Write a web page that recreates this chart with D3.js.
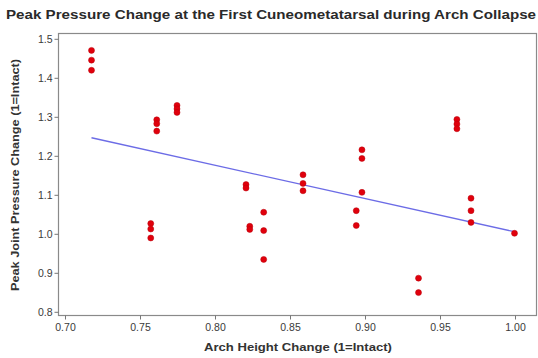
<!DOCTYPE html>
<html>
<head>
<meta charset="utf-8">
<script src="https://cdn.jsdelivr.net/npm/d3@7"></script>
<style>
  html, body { margin: 0; padding: 0; background: #fff; }
  svg { display: block; }
  text { font-family: "Liberation Sans", Arial, sans-serif; }
</style>
</head>
<body>
<svg id="chart" width="538" height="358"></svg>
<script>
// ---- data ----
const archHeight = [
  0.718, 0.718, 0.718,
  0.7575, 0.7575, 0.7575,
  0.7615, 0.7615, 0.7615,
  0.775, 0.775, 0.775,
  0.821, 0.821,
  0.8235, 0.8235,
  0.8328, 0.8328, 0.8328,
  0.859, 0.859, 0.859,
  0.8945, 0.8945,
  0.8983, 0.8983, 0.8983,
  0.936, 0.936,
  0.9616, 0.9616, 0.9616,
  0.971, 0.971, 0.971,
  1.000
];
const pressure = [
  1.469, 1.444, 1.418,
  1.025, 1.011, 0.988,
  1.291, 1.281, 1.262,
  1.328, 1.319, 1.310,
  1.125, 1.116,
  1.018, 1.010,
  1.054, 1.007, 0.933,
  1.150, 1.128, 1.109,
  1.058, 1.020,
  1.214, 1.192, 1.105,
  0.885, 0.848,
  1.292, 1.280, 1.268,
  1.090, 1.058, 1.028,
  1.000
];
const fitX = [0.718, 1.000];
const fitY = [1.245, 1.004];
const xTicks = [0.70, 0.75, 0.80, 0.85, 0.90, 0.95, 1.00];
const yTicks = [0.8, 0.9, 1.0, 1.1, 1.2, 1.3, 1.4, 1.5];
const titleText = "Peak Pressure Change at the First Cuneometatarsal during Arch Collapse";
const xLabel = "Arch Height Change (1=Intact)";
const yLabel = "Peak Joint Pressure Change (1=Intact)";

// ---- layout ----
const frame = { left: 58, right: 536, top: 33, bottom: 315 };
const svg = d3.select("#chart");

const x = d3.scaleLinear().domain([0.70, 1.00]).range([64.5, 514.5]);
const y = d3.scaleLinear().domain([0.8, 1.5]).range([311.3, 38.3]);

// frame
svg.append("rect")
  .attr("x", frame.left + 0.5).attr("y", frame.top + 0.5)
  .attr("width", frame.right - frame.left).attr("height", frame.bottom - frame.top)
  .attr("fill", "#fff").attr("stroke", "#8a8a8a").attr("stroke-width", 1.2);

// axes
const xAxis = svg.append("g")
  .attr("transform", `translate(0.5,${frame.bottom + 0.5})`)
  .call(d3.axisBottom(x).tickValues(xTicks).tickFormat(d3.format(".2f")).tickSize(4).tickPadding(4));
const yAxis = svg.append("g")
  .attr("transform", `translate(${frame.left + 0.5},0.5)`)
  .call(d3.axisLeft(y).tickValues(yTicks).tickFormat(d3.format(".1f")).tickSize(4).tickPadding(2));
[xAxis, yAxis].forEach(g => {
  g.select(".domain").remove();
  g.selectAll(".tick line").attr("stroke", "#777");
  g.selectAll(".tick text").attr("fill", "#3a3a3a").style("font-size", "10.5px")
    .style("font-family", "'Liberation Sans', Arial, sans-serif");
});

// fit line
svg.append("line")
  .attr("x1", x(fitX[0])).attr("y1", y(fitY[0]))
  .attr("x2", x(fitX[1])).attr("y2", y(fitY[1]))
  .attr("stroke", "#6c6ce6").attr("stroke-width", 1.3);

// points
const pts = archHeight.map((v, i) => ({ x: v, y: pressure[i] }));
svg.append("g").selectAll("circle").data(pts).join("circle")
  .attr("cx", d => x(d.x)).attr("cy", d => y(d.y)).attr("r", 3)
  .attr("fill", "#e0000c").attr("stroke", "#b8000a").attr("stroke-width", 0.5);

// title
svg.append("text")
  .attr("x", 6).attr("y", 19)
  .attr("textLength", 530).attr("lengthAdjust", "spacingAndGlyphs")
  .style("font-size", "12.5px").style("font-weight", "bold").attr("fill", "#2a2a2a")
  .text(titleText);

// x label
svg.append("text")
  .attr("x", 298).attr("y", 351).attr("text-anchor", "middle")
  .attr("textLength", 188).attr("lengthAdjust", "spacingAndGlyphs")
  .style("font-size", "11.5px").style("font-weight", "bold").attr("fill", "#333")
  .text(xLabel);

// y label
svg.append("text")
  .attr("transform", "translate(19,175) rotate(-90)").attr("text-anchor", "middle")
  .attr("textLength", 232).attr("lengthAdjust", "spacingAndGlyphs")
  .style("font-size", "11.5px").style("font-weight", "bold").attr("fill", "#333")
  .text(yLabel);
</script>
</body>
</html>
